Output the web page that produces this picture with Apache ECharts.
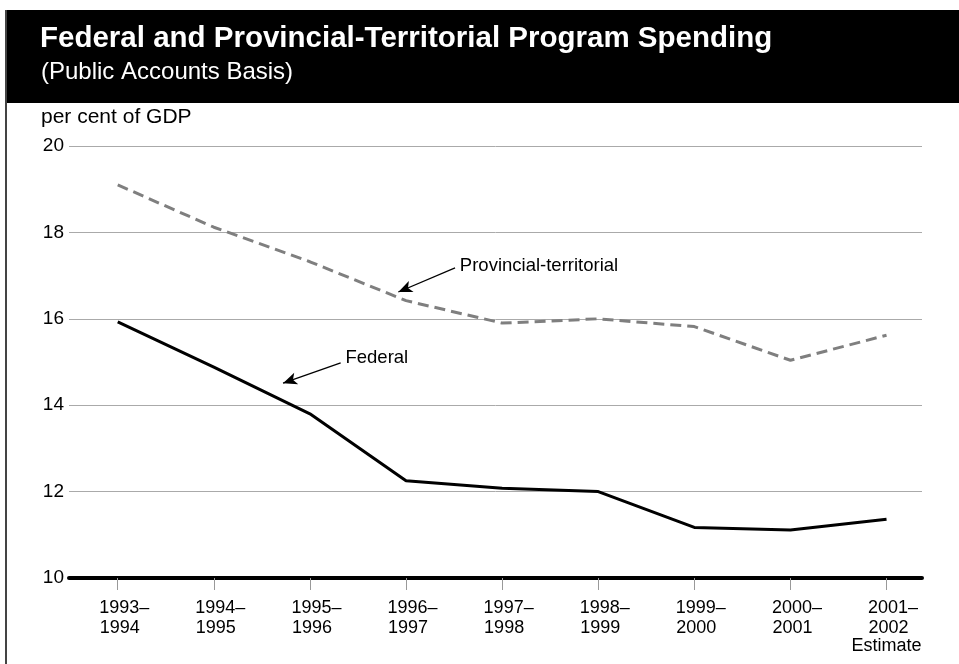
<!DOCTYPE html>
<html>
<head>
<meta charset="utf-8">
<script src="https://cdn.jsdelivr.net/npm/echarts@6/dist/echarts.min.js"></script>
<style>
html,body{margin:0;padding:0;background:#fff;}
#chart{width:959px;height:664px;}
</style>
</head>
<body>
<div id="chart"></div>
<script>
// ---- data ----
const categories = ['1993–1994','1994–1995','1995–1996','1996–1997','1997–1998','1998–1999','1999–2000','2000–2001','2001–2002'];
const tickLabels = ['1993–\n1994\u2002','1994–\n1995\u2002','1995–\n1996\u2002','1996–\n1997\u2002','1997–\n1998\u2002','1998–\n1999\u2002','1999–\n2000\u2002','2000–\n2001\u2002','2001–\n2002\u2002\n{e|Estimate}'];
const federal = [15.93, 14.88, 13.80, 12.25, 12.08, 12.00, 11.17, 11.11, 11.36];
const provincial = [19.10, 18.12, 17.32, 16.42, 15.90, 16.00, 15.82, 15.04, 15.62];
const yTicks = [10, 12, 14, 16, 18, 20];

// annotation anchors in data space [x, y]
const provArrow = [[3.51, 17.18], [2.92, 16.62]];
const fedArrow = [[2.32, 14.98], [1.72, 14.51]];
const provText = [3.56, 17.22];
const fedText = [2.37, 15.10];

const FONT = "'Liberation Sans', Arial, sans-serif";
const chart = echarts.init(document.getElementById('chart'));

const idx = categories.map((c, i) => i);

chart.setOption({
  animation: false,
  backgroundColor: '#fff',
  graphic: [
    { type: 'rect', shape: { x: 5, y: 10, width: 954, height: 93 }, style: { fill: '#000' }, z: 0 },
    { type: 'line', shape: { x1: 6, y1: 10, x2: 6, y2: 664 }, style: { stroke: '#444', lineWidth: 2 }, z: 0 },
    { type: 'text', left: 40, top: 24, style: { text: 'Federal and Provincial-Territorial Program Spending', font: 'bold 29.5px ' + FONT, fill: '#fff' }, z: 1 },
    { type: 'text', left: 41, top: 60, style: { text: '(Public Accounts Basis)', font: '24px ' + FONT, fill: '#fff' }, z: 1 },
    { type: 'text', left: 41, top: 107, style: { text: 'per cent of GDP', font: '21px ' + FONT, fill: '#000' } }
  ],
  grid: { left: 69, right: 37, top: 146, bottom: 86, containLabel: false },
  xAxis: {
    type: 'value',
    min: -0.507, max: 8.369,
    axisLine: { show: true, onZero: false, lineStyle: { color: '#000', width: 4 } },
    axisTick: { show: true, customValues: idx, length: 12, lineStyle: { color: '#999', width: 1 } },
    axisLabel: {
      customValues: idx,
      formatter: v => tickLabels[Math.round(v)],
      margin: 20, color: '#000', fontSize: 18, fontFamily: FONT, lineHeight: 20,
      padding: [0, 0, 0, 13],
      rich: { e: { fontSize: 18, fontFamily: FONT, color: '#000', lineHeight: 16, padding: [0, 13, 0, 0] } }
    },
    splitLine: { show: false }
  },
  yAxis: {
    type: 'value', min: 10, max: 20, interval: 2,
    axisLine: { show: false }, axisTick: { show: false },
    axisLabel: { margin: 5, color: '#000', fontSize: 19, fontFamily: FONT },
    splitLine: { show: true, lineStyle: { color: '#aaa', width: 1 } }
  },
  series: [
    {
      name: 'Provincial-territorial', type: 'line',
      data: provincial.map((v, i) => [i, v]),
      symbol: 'none',
      lineStyle: { color: '#7f7f7f', width: 3, type: [11, 6] },
      z: 3,
      markLine: {
        silent: true, symbol: ['none', 'arrow'], symbolSize: [9, 14],
        label: { show: false },
        lineStyle: { color: '#000', width: 1.3, type: 'solid' },
        data: [[{ coord: provArrow[0] }, { coord: provArrow[1] }]]
      },
      markPoint: {
        silent: true, symbol: 'circle', symbolSize: 0,
        label: { show: true, position: 'right', distance: 0, formatter: 'Provincial-territorial', color: '#000', fontSize: 18.5, fontFamily: FONT },
        data: [{ coord: provText }]
      }
    },
    {
      name: 'Federal', type: 'line',
      data: federal.map((v, i) => [i, v]),
      symbol: 'none',
      lineStyle: { color: '#000', width: 3 },
      z: 4,
      markLine: {
        silent: true, symbol: ['none', 'arrow'], symbolSize: [9, 14],
        label: { show: false },
        lineStyle: { color: '#000', width: 1.3, type: 'solid' },
        data: [[{ coord: fedArrow[0] }, { coord: fedArrow[1] }]]
      },
      markPoint: {
        silent: true, symbol: 'circle', symbolSize: 0,
        label: { show: true, position: 'right', distance: 0, formatter: 'Federal', color: '#000', fontSize: 18.5, fontFamily: FONT },
        data: [{ coord: fedText }]
      }
    }
  ]
});
</script>
</body>
</html>
